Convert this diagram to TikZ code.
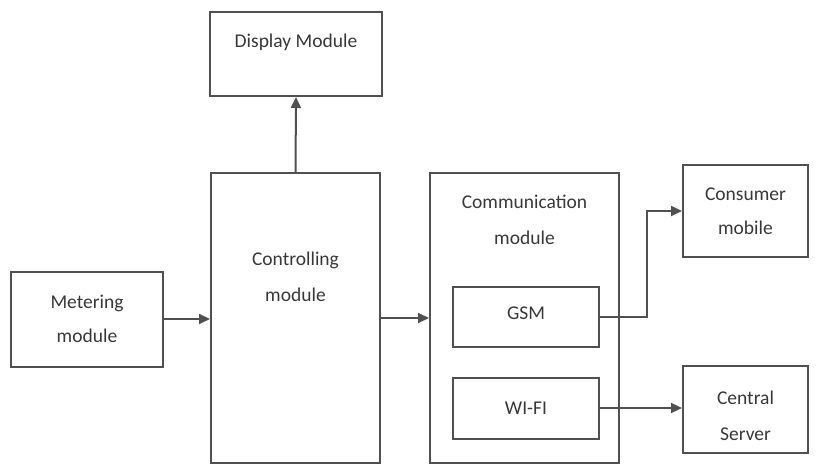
\documentclass[tikz,border=0pt]{standalone}
\usepackage{fontspec}
\setmainfont{Carlito}
\usetikzlibrary{arrows.meta, positioning}

\definecolor{linegray}{HTML}{505050}
\definecolor{textgray}{HTML}{383838}

\begin{document}
\begin{tikzpicture}[
    x=1pt, y=-1pt,
    block/.style={draw=linegray, line width=2pt, inner sep=0pt,
                  align=center, text=textgray,
                  font=\fontsize{19.5}{34}\selectfont},
    label/.style={align=center, text=textgray, inner sep=0pt,
                  font=\fontsize{19.5}{36}\selectfont},
    wire/.style={draw=linegray, line width=2pt},
    >={Triangle[length=11pt,width=10pt]}
  ]
  \useasboundingbox (0,0) rectangle (819,465);

  % Boxes
  \node[block, minimum width=172pt, minimum height=84pt] (display) at (296,54) {};
  \node[label] (displaytxt) at (296,42) {Display Module};

  \node[block, minimum width=169pt, minimum height=290pt] (ctrl) at (295.5,318) {};
  \node[label] (ctrltxt) at (295.5,276.5) {Controlling\\module};

  \node[block, minimum width=152pt, minimum height=95pt] (meter) at (87,319) {Metering\\module};

  \node[block, minimum width=189pt, minimum height=290pt] (comm) at (524.5,318) {};
  \node[label] (commtxt) at (524.5,220) {Communication\\module};

  \node[block, minimum width=146pt, minimum height=60pt] (gsm) at (526,317) {};
  \node[label] (gsmtxt) at (526,313) {GSM};
  \node[block, minimum width=146pt, minimum height=61pt] (wifi) at (526,408) {WI-FI};

  \node[block, minimum width=125pt, minimum height=92pt] (mobile) at (745.5,211) {Consumer\\mobile};
  \node[block, minimum width=125pt, minimum height=87pt] (server) at (745.5,409.5) {};
  \node[label] (servertxt) at (745.5,416) {Central\\Server};

  % Wiring
  \draw[wire, ->] (ctrl.north) -- (display.south);
  \draw[wire, ->] (meter.east) -- (meter.east -| ctrl.west);
  \draw[wire, ->] (ctrl.east) -- (comm.west);
  \coordinate (bend) at ([xshift=47pt]gsm.east);
  \draw[wire, ->] (gsm.east) -- (bend) |- (mobile.west);
  \draw[wire, ->] (wifi.east) -- (wifi.east -| server.west);
\end{tikzpicture}
\end{document}
